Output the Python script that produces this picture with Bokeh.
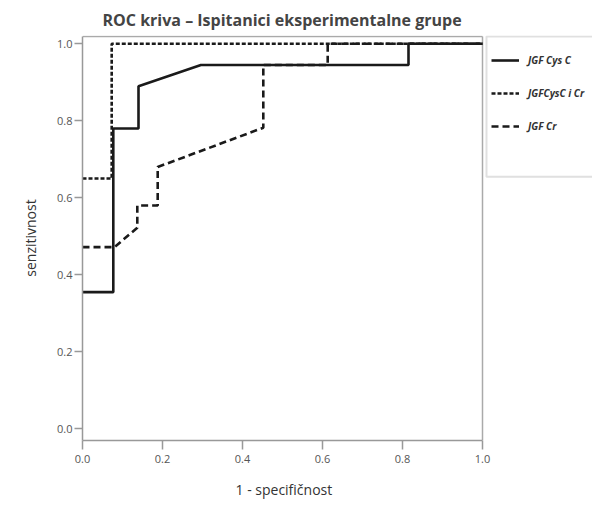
from bokeh.plotting import figure
from bokeh.models import Range1d, Legend, LegendItem, FixedTicker, PrintfTickFormatter, BoxAnnotation, Title
from bokeh.embed import file_html
from bokeh.resources import INLINE

# ROC data (1 - specificity, sensitivity)
cys_x = [0.0, 0.077, 0.077, 0.14, 0.14, 0.296, 0.815, 0.815, 1.0]
cys_y = [0.355, 0.355, 0.78, 0.78, 0.89, 0.945, 0.945, 1.0, 1.0]

comb_x = [0.0, 0.073, 0.073, 1.0]
comb_y = [0.65, 0.65, 1.0, 1.0]

cr_x = [0.0, 0.08, 0.137, 0.137, 0.188, 0.188, 0.452, 0.452, 0.613, 0.613, 1.0]
cr_y = [0.472, 0.472, 0.522, 0.58, 0.58, 0.68, 0.782, 0.945, 0.945, 1.0, 1.0]

labels = ["JGF Cys C", "JGFCysC i Cr", "JGF Cr"]
ticks = [0.0, 0.2, 0.4, 0.6, 0.8, 1.0]
x_title = "1 - specifi\u010dnost"
y_title = "senzitivnost"

FONT = "Open Sans"
Y0, Y1 = -0.0304, 1.0216
TOP = 1.019
X1 = 510 / 400.0

p = figure(width=592, height=505, output_backend="svg", toolbar_location=None,
           x_range=Range1d(0, X1), y_range=Range1d(Y0, Y1),
           frame_width=510, frame_height=405,
           min_border_left=82, min_border_right=0, min_border_top=35, min_border_bottom=65,
           title="ROC kriva \u2013 Ispitanici eksperimentalne grupe")

p.title.align = "left"
p.title.offset = 20
p.title.standoff = 9
p.title.text_font = FONT
p.title.text_font_size = "16px"
p.title.text_font_style = "bold"
p.title.text_color = "#444444"

p.grid.visible = False
p.outline_line_color = None
p.background_fill_color = "white"

for ax in (p.xaxis[0], p.yaxis[0]):
    ax.ticker = FixedTicker(ticks=ticks)
    ax.formatter = PrintfTickFormatter(format="%.1f")
    ax.minor_tick_line_color = None
    ax.major_tick_in = 0
    ax.axis_line_color = "#999999"
    ax.axis_line_width = 1.5
    ax.major_tick_line_color = "#999999"
    ax.major_tick_line_width = 1.5
    ax.major_label_text_font = FONT
    ax.major_label_text_font_size = "11px"
    ax.major_label_text_color = "#555555"
    ax.axis_label_text_font = FONT
    ax.axis_label_text_font_size = "14px"
    ax.axis_label_text_font_style = "normal"
    ax.axis_label_text_color = "#333333"

p.xaxis.major_tick_out = 9
p.xaxis.major_label_standoff = 5
p.yaxis.major_tick_out = 8
p.yaxis.major_label_standoff = 2

p.xaxis.bounds = (0, 1)
p.yaxis.bounds = (Y0, TOP)
p.yaxis.axis_label = y_title
p.yaxis.axis_label_standoff = 14

# x-axis title centred under the 0..1 part of the axis
xt = Title(text=x_title, align="left", offset=153, standoff=24,
           text_font=FONT, text_font_size="14px", text_font_style="normal",
           text_color="#333333")
p.add_layout(xt, "below")

# frame border (top and right) ending at x = 1
p.segment(x0=[0, 1], y0=[TOP, Y0], x1=[1, 1], y1=[TOP, TOP], line_color="#aaaaaa", line_width=1.5)

r1 = p.line(cys_x, cys_y, line_color="#1a1a1a", line_width=2.6)
r2 = p.line(comb_x, comb_y, line_color="#1a1a1a", line_width=2.6, line_dash="4 2")
r3 = p.line(cr_x, cr_y, line_color="#1a1a1a", line_width=2.6, line_dash="7 4")

box = BoxAnnotation(left=1.01, right=1.6, top=TOP, bottom=0.655,
                    fill_color="white", fill_alpha=1, line_color="#999999", line_width=2)
p.add_layout(box)

legend = Legend(items=[LegendItem(label=labels[0], renderers=[r1]),
                       LegendItem(label=labels[1], renderers=[r2]),
                       LegendItem(label=labels[2], renderers=[r3])],
                location=(409, 298))
legend.border_line_color = None
legend.background_fill_alpha = 0
legend.label_text_font = FONT
legend.label_text_font_size = "10px"
legend.label_text_font_style = "bold italic"
legend.label_text_color = "#333333"
legend.glyph_width = 28
legend.glyph_height = 20
legend.label_height = 33
legend.label_standoff = 9
legend.spacing = 0
legend.padding = 10
legend.margin = 0
p.add_layout(legend, "center")

open("out.html", "w").write(file_html(p, INLINE))
